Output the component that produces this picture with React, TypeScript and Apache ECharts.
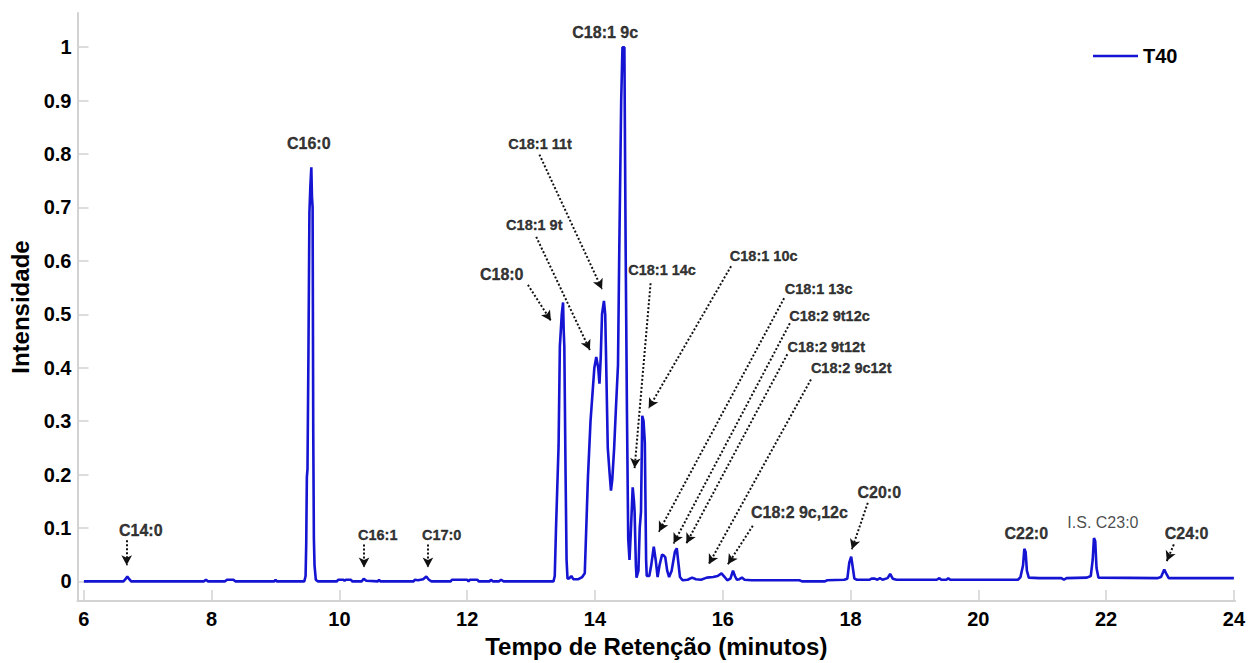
import React, { useEffect, useRef } from "react";
import * as echarts from "echarts";

// Chromatogram trace: retention time (min) and normalised intensity
const retentionTime = [
  6.0, 6.62, 6.65, 6.68, 6.71, 6.74, 7.88, 7.91, 7.94, 8.21, 8.24, 8.34, 8.37, 8.98, 9.0, 9.02,
  9.45, 9.47, 9.48, 9.49, 9.5, 9.515, 9.53, 9.545, 9.56, 9.57, 9.58, 9.59, 9.6, 9.61, 9.63, 9.66,
  9.96, 9.98, 10.06, 10.08, 10.1, 10.18, 10.2, 10.35, 10.38, 10.42, 10.6, 10.62, 10.64,
  11.16, 11.18, 11.23, 11.31, 11.36, 11.4, 11.44, 11.74, 11.76, 12.0, 12.02, 12.04, 12.16, 12.18,
  12.35, 12.37, 12.4, 12.5, 12.53, 12.57,
  13.35, 13.37, 13.39, 13.43, 13.45, 13.48, 13.5, 13.51, 13.52, 13.54, 13.555, 13.57, 13.6, 13.63,
  13.66, 13.74, 13.8, 13.84, 13.89, 13.93, 13.96, 13.99, 14.02, 14.05, 14.07, 14.09, 14.11, 14.14,
  14.16, 14.17, 14.2, 14.23, 14.25, 14.27, 14.3, 14.33, 14.36, 14.38, 14.41, 14.43, 14.46, 14.48,
  14.5, 14.52, 14.54, 14.56, 14.59, 14.61, 14.62, 14.64, 14.65, 14.68, 14.7, 14.72, 14.74, 14.76,
  14.78, 14.8, 14.81, 14.85, 14.88, 14.92, 14.95, 14.98, 15.01, 15.05, 15.08, 15.1, 15.13, 15.16,
  15.2, 15.25, 15.28, 15.3, 15.33, 15.37, 15.45, 15.52, 15.58, 15.66, 15.75, 15.85, 15.92, 15.98,
  16.03, 16.07, 16.12, 16.16, 16.19, 16.22, 16.26, 16.3, 16.34, 16.45, 16.8, 17.2, 17.24, 17.6,
  17.63, 17.9, 17.95, 17.98, 18.01, 18.03, 18.06, 18.1, 18.3, 18.33, 18.38, 18.42, 18.46, 18.5,
  18.58, 18.62, 18.66, 18.72, 19.35, 19.39, 19.42, 19.5, 19.53, 19.56, 20.62, 20.66, 20.7, 20.72,
  20.74, 20.76, 20.79, 20.95, 21.3, 21.34, 21.38, 21.7, 21.76, 21.79, 21.81, 21.83, 21.85, 21.88,
  22.8, 22.86, 22.91, 22.94, 22.98, 24.0,
];

const intensity = [
  0.0, 0.0, 0.004, 0.009, 0.004, 0.0, 0.0, 0.003, 0.0, 0.0, 0.003, 0.003, 0.0, 0.0, 0.003, 0.0,
  0.0, 0.01, 0.07, 0.195, 0.21, 0.43, 0.69, 0.74, 0.775, 0.72, 0.7, 0.28, 0.08, 0.03, 0.003, 0.0,
  0.0, 0.003, 0.003, 0.001, 0.003, 0.003, 0.0, 0.0, 0.005, 0.001, 0.0, 0.003, 0.0,
  0.0, 0.003, 0.002, 0.004, 0.009, 0.003, 0.0, 0.0, 0.003, 0.003, 0.0, 0.003, 0.003, 0.0,
  0.0, 0.003, 0.0, 0.0, 0.003, 0.0,
  0.0, 0.01, 0.1, 0.254, 0.44, 0.5, 0.522, 0.47, 0.44, 0.196, 0.04, 0.005, 0.006, 0.01,
  0.004, 0.004, 0.008, 0.015, 0.196, 0.3, 0.35, 0.4, 0.42, 0.4, 0.37, 0.42, 0.5, 0.525,
  0.5, 0.44, 0.25, 0.2, 0.17, 0.19, 0.25, 0.33, 0.405, 0.62, 0.9, 1.0, 1.0, 0.62,
  0.32, 0.08, 0.04, 0.09, 0.176, 0.15, 0.13, 0.03, 0.007, 0.02, 0.1, 0.13, 0.31, 0.3,
  0.26, 0.04, 0.01, 0.01, 0.03, 0.065, 0.04, 0.008, 0.03, 0.05, 0.048, 0.045, 0.02, 0.008,
  0.02, 0.055, 0.062, 0.04, 0.008, 0.002, 0.003, 0.007, 0.004, 0.003, 0.007, 0.008, 0.01, 0.015,
  0.008, 0.002, 0.005, 0.02, 0.01, 0.003, 0.004, 0.007, 0.003, 0.002, 0.002, 0.002, 0.0, 0.0,
  0.002, 0.003, 0.005, 0.035, 0.046, 0.03, 0.005, 0.003, 0.003, 0.005, 0.005, 0.003, 0.006, 0.003,
  0.006, 0.014, 0.005, 0.003, 0.003, 0.006, 0.003, 0.003, 0.006, 0.003, 0.003, 0.008, 0.03, 0.061,
  0.055, 0.02, 0.007, 0.006, 0.006, 0.003, 0.006, 0.007, 0.01, 0.04, 0.081, 0.075, 0.025, 0.007,
  0.006, 0.008, 0.022, 0.015, 0.006, 0.006,
];

const seriesName = "T40";
const xTickValues = [6, 8, 10, 12, 14, 16, 18, 20, 22, 24];
const yTickValues = [0, 0.1, 0.2, 0.3, 0.4, 0.5, 0.6, 0.7, 0.8, 0.9, 1];

// Peak identification labels, anchored in data space (time, intensity)
const peakLabelText = [
  "C14:0", "C16:0", "C16:1", "C17:0", "C18:0", "C18:1 9t", "C18:1 11t", "C18:1 9c",
  "C18:1 14c", "C18:1 10c", "C18:1 13c", "C18:2 9t12c", "C18:2 9t12t", "C18:2 9c12t",
  "C18:2 9c,12c", "C20:0", "C22:0", "I.S. C23:0", "C24:0",
];
const peakLabelTime = [
  6.89, 9.52, 10.6, 11.6, 12.54, 13.05, 13.14, 14.16,
  15.05, 16.64, 17.5, 17.67, 17.62, 18.01,
  17.2, 18.45, 20.75, 21.95, 23.26,
];
const peakLabelLevel = [
  0.096, 0.819, 0.086, 0.086, 0.574, 0.667, 0.818, 1.028,
  0.582, 0.609, 0.547, 0.496, 0.439, 0.4,
  0.128, 0.167, 0.0887, 0.11, 0.0887,
];

// Dotted pointer arrows: start (near label) -> tip (at peak)
const arrowFromTime = [6.67, 10.385, 11.385, 12.95, 13.08, 13.13, 14.87, 16.13, 16.96, 17.05, 17.01, 17.38, 16.47, 18.27, 23.06];
const arrowFromLevel = [0.077, 0.069, 0.069, 0.555, 0.645, 0.799, 0.558, 0.59, 0.53, 0.483, 0.425, 0.378, 0.104, 0.147, 0.069];
const arrowToTime = [6.67, 10.385, 11.385, 13.31, 13.92, 14.11, 14.62, 14.84, 15.0, 15.23, 15.43, 15.78, 16.08, 18.02, 22.95];
const arrowToLevel = [0.03, 0.026, 0.026, 0.488, 0.433, 0.547, 0.212, 0.324, 0.093, 0.071, 0.071, 0.032, 0.032, 0.06, 0.038];

const smallLabels = new Set([
  "C16:1", "C17:0", "C18:1 9t", "C18:1 11t", "C18:1 14c", "C18:1 10c",
  "C18:1 13c", "C18:2 9t12c", "C18:2 9t12t", "C18:2 9c12t",
]);

const FONT = "'Liberation Sans', Arial, Helvetica, sans-serif";
const AXIS_GREY = "#d2d2d2";
const INK = "#000000";

const tickRich = {
  t: { fontFamily: FONT, fontSize: 20, fontWeight: "bold", color: INK },
};

export default function App() {
  const ref = useRef<HTMLDivElement>(null);

  useEffect(() => {
    if (!ref.current) return;
    const chart = echarts.init(ref.current, undefined, { renderer: "svg" });

    const traceData = retentionTime.map((t, i) => [t, intensity[i]]);

    const labelData = peakLabelText.map((text, i) => {
      const small = smallLabels.has(text);
      const regular = text.startsWith("I.S.");
      return {
        name: text,
        value: [peakLabelTime[i], peakLabelLevel[i]],
        label: {
          fontSize: regular ? 16 : text === "C18:2 9c,12c" ? 16 : small ? 14.5 : 16,
          fontWeight: regular ? "normal" : "bold",
          color: regular ? "#1a1a1a" : INK,
          textBorderColor: regular ? "transparent" : INK,
          textBorderWidth: regular ? 0 : 0.35,
        },
      };
    });

    const arrowData = arrowFromTime.map((t, i) => [
      { coord: [t, arrowFromLevel[i]] },
      { coord: [arrowToTime[i], arrowToLevel[i]] },
    ]);

    chart.setOption({
      animation: false,
      backgroundColor: "#ffffff",
      textStyle: { fontFamily: FONT },
      grid: { left: 77.5, right: 11, top: 13, bottom: 56, containLabel: false },
      legend: {
        data: [seriesName],
        left: 1093,
        top: 46,
        padding: 0,
        icon: "rect",
        itemWidth: 45,
        itemHeight: 2.5,
        textStyle: { fontFamily: FONT, fontSize: 20, fontWeight: "bold", color: INK },
      },
      xAxis: {
        type: "value",
        min: 5.9,
        max: 24.02,
        name: "Tempo de Retenção (minutos)",
        nameLocation: "middle",
        nameGap: 29,
        nameTextStyle: { fontFamily: FONT, fontSize: 24, fontWeight: "bold", color: INK },
        axisLine: { onZero: false, lineStyle: { color: AXIS_GREY, width: 2 } },
        axisTick: { inside: true, length: 11, customValues: xTickValues, lineStyle: { color: AXIS_GREY, width: 1.5 } },
        axisLabel: {
          customValues: xTickValues,
          margin: 8,
          formatter: (v: number) => `{t|${v}}`,
          rich: tickRich,
        },
        splitLine: { show: false },
      },
      yAxis: {
        type: "value",
        min: -0.037,
        max: 1.064,
        name: "Intensidade",
        nameLocation: "middle",
        nameRotate: 90,
        nameGap: 42,
        nameTextStyle: { fontFamily: FONT, fontSize: 24, fontWeight: "bold", color: INK },
        axisLine: { show: true, onZero: false, lineStyle: { color: AXIS_GREY, width: 2 } },
        axisTick: { show: true, inside: true, length: 11, customValues: yTickValues, lineStyle: { color: AXIS_GREY, width: 1.5 } },
        axisLabel: {
          customValues: yTickValues,
          margin: 6,
          formatter: (v: number) => `{t|${Math.round(v * 10) / 10}}`,
          rich: tickRich,
        },
        splitLine: { show: false },
      },
      series: [
        {
          name: seriesName,
          type: "line",
          data: traceData,
          showSymbol: false,
          symbol: "none",
          color: "#1414d2",
          lineStyle: { color: "#1414d2", width: 2.6 },
          clip: false,
          z: 3,
          markLine: {
            silent: true,
            animation: false,
            symbol: ["none", "arrow"],
            symbolSize: [8, 10],
            label: { show: false },
            lineStyle: { type: [2, 2], width: 2, color: "#111" },
            emphasis: { disabled: true },
            data: arrowData,
          },
        },
        {
          name: "peaks",
          type: "scatter",
          data: labelData,
          symbolSize: 1,
          itemStyle: { color: "rgba(0,0,0,0)" },
          silent: true,
          z: 5,
          label: {
            show: true,
            position: "inside",
            formatter: "{b}",
            fontFamily: FONT,
            color: INK,
          },
        },
      ],
    });

    return () => chart.dispose();
  }, []);

  return (
    <div
      ref={ref}
      style={{ position: "fixed", left: 0, top: 0, width: 1248, height: 663, background: "#fff" }}
    />
  );
}
